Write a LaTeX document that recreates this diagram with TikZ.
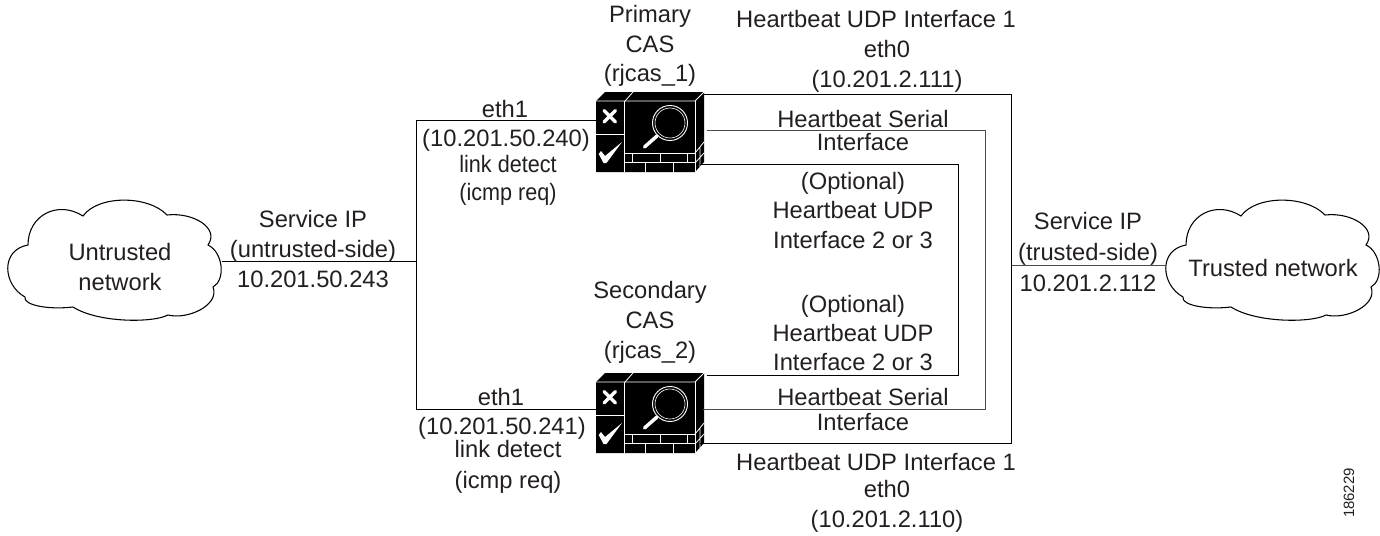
\documentclass[tikz,border=0pt]{standalone}
\usepackage{fontspec}
\setmainfont{Liberation Sans}
\newfontfamily\condfont[FakeStretch=0.91]{Liberation Sans}
\definecolor{inkc}{HTML}{231F20}
\tikzset{
  lbl/.style={text=inkc,align=center,inner sep=0pt,anchor=base,font=\fontsize{17.8}{#1}\selectfont},
  lbl/.default=22.5,
  cond/.style={text=inkc,align=center,inner sep=0pt,anchor=base,font=\condfont\fontsize{17.8}{#1}\selectfont},
  wire/.style={draw=black,line width=0.85pt},
  greywire/.style={draw=black!70,line width=0.95pt},
  cloudline/.style={draw=black,line width=0.8pt,fill=white},
  wl/.style={draw=white,line width=0.6pt},
  pics/casicon/.style={code={
    \fill[black] (0,0) -- (9,-9) -- (108,-9) -- (108,61) -- (99,71) -- (0,71) -- cycle;
    \draw[wl] (29,0) -- (37,-9);
    \draw[wl] (0,0) -- (99,0) -- (108,-9);
    \draw[wl] (99,0) -- (99,71);
    \draw[wl] (28.5,0) -- (28.5,71);
    \draw[wl] (0,33) -- (28.5,33);
    \draw[wl] (28.5,52) -- (99,52) (28.5,61.5) -- (99,61.5);
    \draw[wl] (36,52) -- (36,61.5) (64,52) -- (64,61.5) (91,52) -- (91,61.5);
    \draw[wl] (49,61.5) -- (49,71) (77,61.5) -- (77,71);
    \draw[wl] (99,52) -- (108,41) (99,62) -- (108,52) (104,46) -- (104,57) (104,57) -- (104,66);
    \draw[white,line width=2.6pt,line cap=round] (8,9.5) -- (19.5,21) (19.5,9.5) -- (8,21);
    \fill[white] (2.7,53) -- (5,50) -- (9,55) -- (26,41) -- (10.5,62) -- (7.5,62) -- cycle;
    \draw[white,line width=0.7pt] (74,22) circle (17.5);
    \draw[white,line width=0.45pt] (74,22) circle (15);
    \draw[white,line width=2.6pt,line cap=round] (61,35) -- (48.5,46);
  }},
  pics/cloudpic/.style={code={
    \path[cloudline] (20,55) .. controls (20,25) and (50,10) .. (75,26)
      .. controls (90,5) and (140,5) .. (159,25)
      .. controls (185,22) and (212,38) .. (200,55)
      .. controls (215,62) and (218,90) .. (205,97)
      .. controls (212,115) and (180,130) .. (160,125)
      .. controls (145,133) and (90,133) .. (65,117)
      .. controls (40,120) and (15,115) .. (17,107)
      .. controls (-5,95) and (-8,60) .. (20,55) -- cycle;
  }}
}
\begin{document}
\begin{tikzpicture}[x=0.75pt,y=-0.75pt]
\useasboundingbox (0,0) rectangle (1380,535);
% clouds
\pic at (8,190) {cloudpic};
\pic at (1166,190) {cloudpic};
\node[lbl=22] (untrusted) at (120,290) {Untrusted\\network};
\node[lbl] (trusted) at (1273,276) {Trusted network};
% icons
\pic at (596,101) {casicon};
\pic at (596,382) {casicon};
% junctions
\coordinate (busT) at (416.5,120.5);
\coordinate (busB) at (416.5,409.5);
\coordinate (busM) at (416.5,261.5);
\coordinate (untrE) at (222,261.5);
\coordinate (trE) at (1166,265.5);
\coordinate (pw) at (596,120.5);
\coordinate (sw) at (596,409.5);
\coordinate (p1) at (703,94.5);
\coordinate (p2) at (707,130.5);
\coordinate (p3) at (700,164.5);
\coordinate (s3) at (707,375.5);
\coordinate (s2) at (703,409.5);
\coordinate (s1) at (700,443.5);
\coordinate (r1) at (1011.5,94.5);
\coordinate (r1b) at (1011.5,443.5);
\coordinate (r2) at (985.5,130.5);
\coordinate (r2b) at (985.5,409.5);
\coordinate (r3) at (958.5,164.5);
\coordinate (r3b) at (958.5,375.5);
\coordinate (rm) at (1011.5,265.5);
% wires
\draw[wire] (pw) -- (busT) -- (busB) -- (sw);
\draw[wire] (untrE) -- (busM);
\draw[greywire] (rm) -- (trE);
\draw[wire] (p1) -- (r1) -- (r1b) -- (s1);
\draw[greywire] (p2) -- (r2) -- (r2b) -- (s2);
\draw[wire] (p3) -- (r3) -- (r3b) -- (s3);
% labels
\node[lbl=22.2] (n1) at (650,82) {Primary\\CAS\\(rjcas\_1)};
\node[lbl] (n2) at (876,28) {Heartbeat UDP Interface 1};
\node[lbl=23] (n2b) at (887,88) {eth0\\(10.201.2.111)};
\node[lbl] (n3) at (505,117) {eth1};
\node[lbl] (n4) at (506,146) {(10.201.50.240)};
\node[cond=21] (n5) at (508,200) {link detect\\(icmp req)};
\node[lbl] (n6) at (313,287) {Service IP\\(untrusted-side)\\10.201.50.243};
\node[lbl=17.25] (n7) at (863,150) {Heartbeat Serial\\Interface};
\node[lbl=22.1] (n8) at (853,248) {(Optional)\\Heartbeat UDP\\Interface 2 or 3};
\node[lbl=23] (n9) at (1088,291) {Service IP\\(trusted-side)\\10.201.2.112};
\node[lbl] (n10) at (650,358) {Secondary\\CAS\\(rjcas\_2)};
\node[lbl=21.75] (n11) at (853,370) {(Optional)\\Heartbeat UDP\\Interface 2 or 3};
\node[lbl] (n12) at (501,405) {eth1};
\node[lbl] (n13) at (502,434) {(10.201.50.241)};
\node[lbl=23.25] (n14) at (508,488) {link detect\\(icmp req)};
\node[lbl=18.2] (n15) at (863,430) {Heartbeat Serial\\Interface};
\node[lbl] (n16) at (876,470) {Heartbeat UDP Interface 1};
\node[lbl=22] (n16b) at (887,527) {eth0\\(10.201.2.110)};
\node[text=inkc,inner sep=0pt,rotate=90,font=\fontsize{11.2}{13}\selectfont] (n17) at (1349,493) {186229};
\end{tikzpicture}
\end{document}
